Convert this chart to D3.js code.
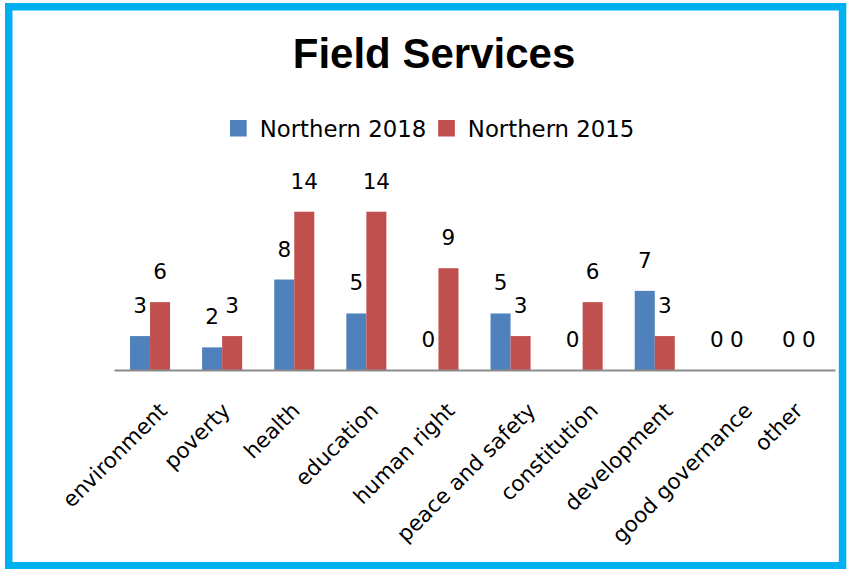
<!DOCTYPE html>
<html>
<head>
<meta charset="utf-8">
<script src="https://cdn.jsdelivr.net/npm/d3@7"></script>
<style>
  html, body { margin: 0; padding: 0; background: #fff; }
  svg { display: block; }
</style>
</head>
<body>
<svg id="chart" width="852" height="569"></svg>
<script>
const categories = ["environment", "poverty", "health", "education", "human right",
  "peace and safety", "constitution", "development", "good governance", "other"];
const seriesNames = ["Northern 2018", "Northern 2015"];
const northern2018 = [3, 2, 8, 5, 0, 5, 0, 7, 0, 0];
const northern2015 = [6, 3, 14, 14, 9, 3, 6, 3, 0, 0];
const colors = ["#4F81BD", "#C0504D"];
const title = "Field Services";

const W = 852, H = 569;
const svg = d3.select("#chart");

// Frame
svg.append("rect").attr("x", 8.75).attr("y", 6.75).attr("width", 833.8).attr("height", 559)
  .attr("fill", "#fff").attr("stroke", "#00B0F0").attr("stroke-width", 7.5);

// Title
svg.append("text").attr("x", 434).attr("y", 68.3).attr("text-anchor", "middle")
  .attr("font-family", "Liberation Sans, Arial, sans-serif").attr("font-weight", "bold")
  .attr("font-size", 42).attr("fill", "#000").text(title);

// Scales
const x0 = d3.scaleBand().domain(categories).range([114, 835]).padding(0);
const groupW = x0.bandwidth() / 1.8;
const x1 = d3.scaleBand().domain(seriesNames).range([0, groupW]).padding(0);
const y = d3.scaleLinear().domain([0, 16]).range([370, 370 - 16 * 11.307]);

const data = categories.map((c, i) => ({ cat: c, vals: [northern2018[i], northern2015[i]] }));

const g = svg.append("g");
const groups = g.selectAll("g.grp").data(data).join("g")
  .attr("transform", d => `translate(${x0(d.cat) + (x0.bandwidth() - groupW) / 2},0)`);

groups.selectAll("rect").data(d => d.vals.map((v, k) => ({ v, k })))
  .join("rect")
  .attr("x", d => x1(seriesNames[d.k]))
  .attr("y", d => y(d.v))
  .attr("width", x1.bandwidth())
  .attr("height", d => y(0) - y(d.v))
  .attr("fill", d => colors[d.k]);

groups.selectAll("text.lbl").data(d => d.vals.map((v, k) => ({ v, k })))
  .join("text").attr("class", "lbl")
  .attr("x", d => x1(seriesNames[d.k]) + x1.bandwidth() / 2)
  .attr("y", d => y(d.v) - 23)
  .attr("text-anchor", "middle")
  .attr("font-family", "DejaVu Sans, sans-serif").attr("font-size", 21.5)
  .attr("fill", "#000")
  .text(d => d.v);

// Axis
const axis = svg.append("g").attr("transform", `translate(0,${y(0)})`)
  .call(d3.axisBottom(x0).tickSize(0).tickSizeOuter(0));
axis.select(".domain").attr("stroke", "#8C8C8C").attr("stroke-width", 2);
axis.selectAll(".tick text")
  .attr("font-family", "DejaVu Sans, sans-serif").attr("font-size", 21.5)
  .attr("fill", "#000").attr("text-anchor", "end")
  .each(function () {
    const t = d3.select(this);
    const L = this.getComputedTextLength();
    const sx = 0.167 * L - 15.5;
    const sy = 31;
    t.attr("x", sx).attr("y", sy).attr("dy", "0.72em")
      .attr("transform", `rotate(-45 ${sx} ${sy})`);
  });

// Legend
const legend = svg.append("g");
const items = legend.selectAll("g").data(seriesNames).join("g");
items.append("rect").attr("width", 16.7).attr("height", 16.5).attr("y", 120)
  .attr("fill", (d, i) => colors[i]);
items.append("text").attr("y", 136.7)
  .attr("font-family", "DejaVu Sans, sans-serif").attr("font-size", 22.8)
  .attr("fill", "#000").text(d => d);
let cx = 230;
items.each(function () {
  const it = d3.select(this);
  it.select("rect").attr("x", cx);
  it.select("text").attr("x", cx + 16.7 + 13);
  cx += 16.7 + 13 + it.select("text").node().getComputedTextLength() + 12;
});
</script>
</body>
</html>
